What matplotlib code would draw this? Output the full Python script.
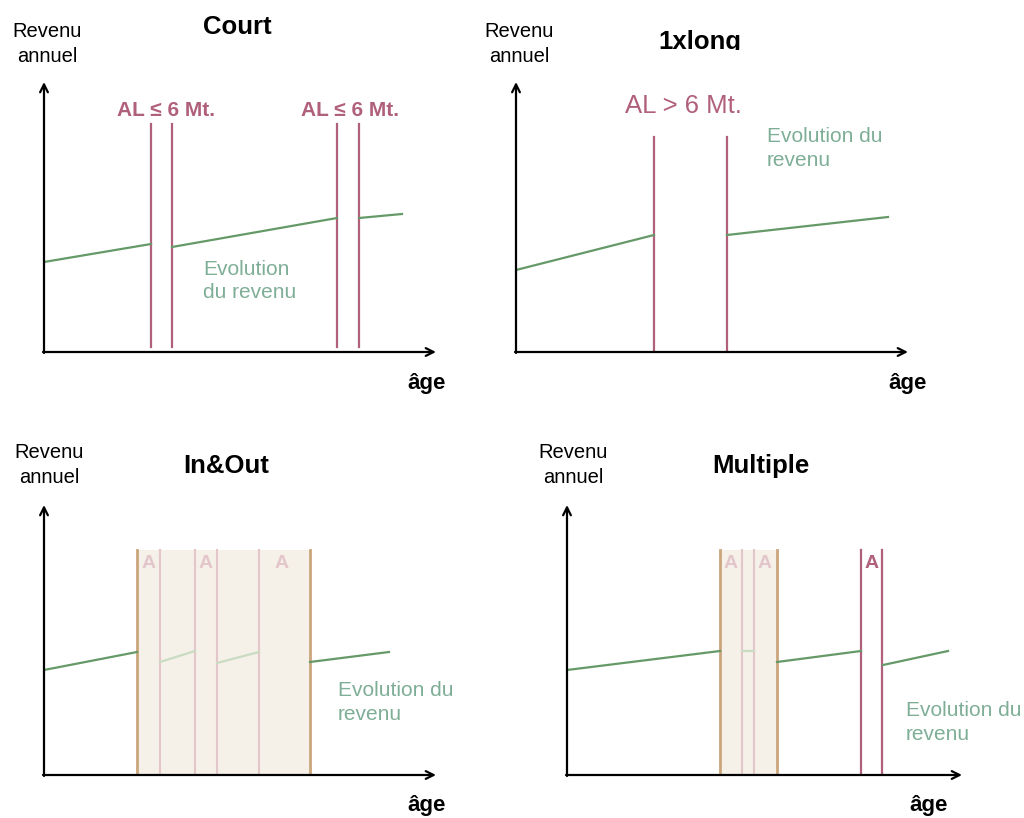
import matplotlib
matplotlib.use('Agg')
import matplotlib.pyplot as plt
from matplotlib.patches import Rectangle

plt.rcParams['font.family'] = ['Liberation Sans', 'DejaVu Sans']

W, H = 1024, 818

RED = '#b0607a'
GREEN = '#659a68'
GREEN_TXT = '#7fae97'
GREEN_LIGHT = '#c9dcc2'
PINK = '#e3c6ca'
BEIGE = '#f5f0e8'
TAN = '#cba57c'

# panel-local coordinates: x = age, y = revenue (pixel-sized units from the axis corner)
titles = ['Court', '1xlong', 'In&Out', 'Multiple']
origins = [(44, 352), (516, 352), (44, 775), (567, 775)]
axis_len = [(392, 270), (392, 270), (392, 270), (395, 270)]

income_dark = [
    [[(0, 90), (107, 108)], [(128, 105), (293, 134)], [(315, 134), (358, 138)]],
    [[(0, 82), (138, 117)], [(211, 117), (372, 135)]],
    [[(0, 105), (93, 123)], [(266, 113), (345, 123)]],
    [[(0, 105), (153, 124)], [(210, 113), (294, 124)], [(316, 110), (381, 124)]],
]
income_light = [
    [],
    [],
    [[(116, 113), (151, 124)], [(173, 112), (215, 123)]],
    [[(175, 124), (187, 124)]],
]

# unemployment spells (vertical red markers): x positions, top
spell_lines = [[107, 128, 293, 315], [138, 211], [], [294, 315]]
spell_top = [228, 215, 225, 225]
spell_bottom = [5, 0, 0, 0]

# in&out boxes (beige)
boxes = [[], [], [(93, 266)], [(153, 210)]]
box_lines = [[], [], [116, 151, 173, 215], [175, 187]]
box_labels = [[], [], [105, 162, 238], [164, 198]]
red_labels = [[], [], [], [305]]

al_labels = [[(122, 242, 'AL ≤ 6 Mt.'), (306, 242, 'AL ≤ 6 Mt.')],
             [(167, 246, 'AL > 6 Mt.')], [], []]
al_size = [15, 18.5, 15, 15]
al_weight = ['bold', 'normal', 'bold', 'bold']

evo_text = ['Evolution\ndu revenu', 'Evolution du\nrevenu', 'Evolution du\nrevenu', 'Evolution du\nrevenu']
evo_pos = [(159, 92), (251, 225), (294, 94), (339, 74)]

title_pos = [(193, 325), (184, 310), (182, 309), (194, 309)]
ylabel_pos = [(3, 308), (3, 308), (5, 310), (6, 310)]
age_pos = [(402, -32), (411, -32), (402, -31), (381, -31)]

fig = plt.figure(figsize=(W / 100, H / 100), dpi=100, facecolor='white')

for i in range(4):
    ox, oy = origins[i]
    ax = fig.add_axes([ox / W, (H - oy) / H, 420 / W, 330 / H])
    ax.set_xlim(0, 420)
    ax.set_ylim(0, 330)
    ax.axis('off')

    for x0, x1 in boxes[i]:
        ax.add_patch(Rectangle((x0, 0), x1 - x0, 225, facecolor=BEIGE, edgecolor='none', zorder=1))
        ax.plot([x0, x0], [0, 225], color=TAN, lw=2, zorder=3)
        ax.plot([x1, x1], [0, 225], color=TAN, lw=2, zorder=3)
    for x in box_lines[i]:
        ax.plot([x, x], [0, 225], color=PINK, lw=1.5, zorder=2)
    for x in box_labels[i]:
        ax.text(x, 212, 'A', color=PINK, fontsize=14, fontweight='bold', ha='center', va='center', zorder=4)
    for x in red_labels[i]:
        ax.text(x, 212, 'A', color=RED, fontsize=14, fontweight='bold', ha='center', va='center', zorder=4)

    for x in spell_lines[i]:
        ax.plot([x, x], [spell_bottom[i], spell_top[i]], color=RED, lw=1.6, zorder=3)

    for seg in income_dark[i]:
        xs, ys = zip(*seg)
        ax.plot(xs, ys, color=GREEN, lw=1.6, zorder=3)
    for seg in income_light[i]:
        xs, ys = zip(*seg)
        ax.plot(xs, ys, color=GREEN_LIGHT, lw=1.6, zorder=3)

    # axes with arrows
    lx, ly = axis_len[i]
    ax.annotate('', xy=(lx, 0), xytext=(-1, 0),
                arrowprops=dict(arrowstyle='->', lw=1.6, color='black', mutation_scale=14, shrinkA=0, shrinkB=0),
                annotation_clip=False, zorder=5)
    ax.annotate('', xy=(0, ly), xytext=(0, -1),
                arrowprops=dict(arrowstyle='->', lw=1.6, color='black', mutation_scale=14, shrinkA=0, shrinkB=0),
                annotation_clip=False, zorder=5)

    for x, y, s in al_labels[i]:
        ax.text(x, y, s, color=RED, fontsize=al_size[i], fontweight=al_weight[i],
                ha='center', va='center', clip_on=False)

    ex, ey = evo_pos[i]
    ax.text(ex, ey, evo_text[i], color=GREEN_TXT, fontsize=15, ha='left', va='top',
            linespacing=1.3, clip_on=False)

    tx, ty = title_pos[i]
    ax.text(tx, ty, titles[i], fontsize=18.5, fontweight='bold', ha='center', va='center', clip_on=False)

    yx, yy = ylabel_pos[i]
    ax.text(yx, yy, 'Revenu\nannuel', fontsize=14.5, ha='center', va='center', linespacing=1.35,
            clip_on=False)

    gx, gy = age_pos[i]
    ax.text(gx, gy, 'âge', fontsize=16, fontweight='bold', ha='right', va='center', clip_on=False)

# the "1xlong" title is cut off at the bottom in the original
fig.patches.append(Rectangle((640 / W, (H - 62) / H), 120 / W, 12 / H, transform=fig.transFigure,
                             facecolor='white', edgecolor='none', zorder=10))

fig.savefig('out.png', dpi=100, facecolor='white')
